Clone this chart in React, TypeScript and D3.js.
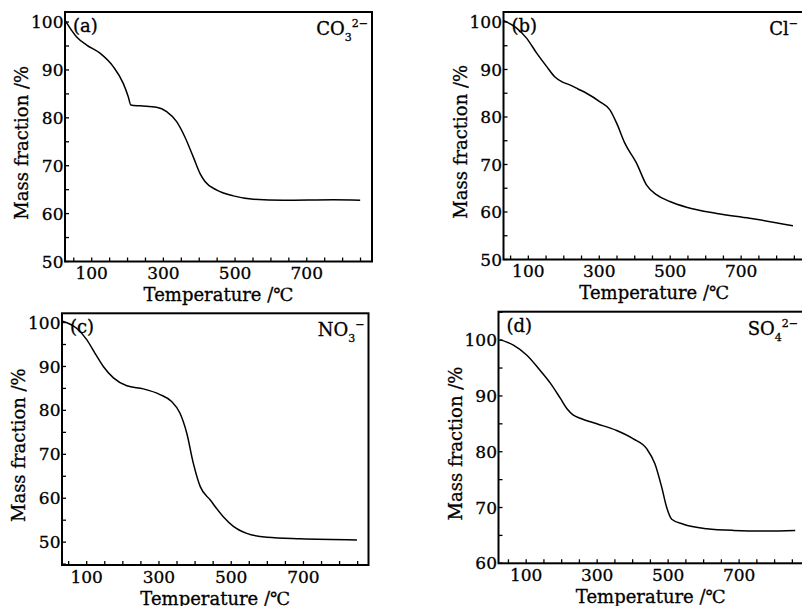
import React from "react";
import * as d3 from "d3";

// ---- Data ----
const tempA = [27, 58, 86, 123, 160, 188, 202, 209, 235, 281, 309, 337, 360, 383, 402, 416, 449, 495, 551, 635, 774, 849];
const massA = [100.2, 96.9, 95.2, 93.5, 90.7, 87.2, 84.4, 82.7, 82.5, 82.2, 81.3, 79.2, 76, 71.9, 68.4, 66.7, 64.9, 63.7, 63, 62.8, 62.9, 62.8];

const tempB = [31, 67, 95, 124, 152, 175, 195, 215, 240, 264, 302, 330, 349, 372, 405, 433, 462, 499, 546, 631, 724, 846];
const massB = [100.3, 98.7, 96.6, 93.4, 90.6, 88.4, 87.4, 86.8, 85.9, 85, 83.2, 81.5, 78.7, 74.5, 70.3, 65.7, 63.6, 62.2, 61, 59.7, 58.7, 57.1];

const tempC = [33, 72, 100, 123, 146, 174, 211, 257, 303, 335, 358, 377, 395, 414, 442, 478, 506, 543, 599, 691, 848];
const massC = [100.3, 98.7, 96.1, 93, 90, 87.4, 85.6, 84.9, 83.6, 82, 79.4, 74.8, 68, 62.7, 59.6, 55.8, 53.6, 52, 51.1, 50.75, 50.5];

const tempD = [27, 64, 102, 139, 168, 196, 215, 232, 252, 299, 355, 402, 440, 463, 482, 496, 510, 543, 609, 684, 778, 858];
const massD = [100.1, 99.1, 97.3, 94.6, 92.3, 89.6, 87.7, 86.6, 86.0, 85, 83.8, 82.3, 80.5, 77.8, 73.6, 70, 67.9, 67, 66.2, 65.9, 65.8, 65.9];

const xTickLabels = [100, 300, 500, 700];
const yTicksAB = [50, 60, 70, 80, 90, 100];
const yTicksC = [50, 60, 70, 80, 90, 100];
const yTicksD = [60, 70, 80, 90, 100];

const panelTags = ["(a)", "(b)", "(c)", "(d)"];
const ionMain = ["CO", "Cl", "NO", "SO"];
const ionSub = ["3", "", "3", "4"];
const ionSup = ["2\u2212", "\u2212", "\u2212", "2\u2212"];

const xTitle = "Temperature /\u2103";
const yTitle = "Mass fraction /%";

type Panel = {
  temps: number[];
  mass: number[];
  left: number; right: number; top: number; bottom: number;
  xDom: [number, number];
  yDom: [number, number];
  yTicks: number[];
  idx: number;
};

const panels: Panel[] = [
  { temps: tempA, mass: massA, left: 65, right: 372, top: 12, bottom: 261.5, xDom: [25.5, 882], yDom: [50, 102.1], yTicks: yTicksAB, idx: 0 },
  { temps: tempB, mass: massB, left: 503.5, right: 805, top: 12, bottom: 259.5, xDom: [30, 880], yDom: [50, 102.1], yTicks: yTicksAB, idx: 1 },
  { temps: tempC, mass: massC, left: 62, right: 368.5, top: 313.3, bottom: 565, xDom: [31.6, 880], yDom: [44.8, 102.1], yTicks: yTicksC, idx: 2 },
  { temps: tempD, mass: massD, left: 498.5, right: 803, top: 311.7, bottom: 563.3, xDom: [22, 880], yDom: [60, 105.1], yTicks: yTicksD, idx: 3 },
];

const FONT = "'DejaVu Serif', 'Liberation Serif', serif";
const TS = { stroke: "#000", strokeWidth: 0.3 };

function PanelView({ p }: { p: Panel }) {
  const x = d3.scaleLinear().domain(p.xDom).range([p.left, p.right]);
  const y = d3.scaleLinear().domain(p.yDom).range([p.bottom, p.top]);
  const pts = p.temps.map((t, i) => [t, p.mass[i]] as [number, number]);
  const line = d3
    .line<[number, number]>()
    .x((d) => x(d[0]))
    .y((d) => y(d[1]))
    .curve(d3.curveMonotoneX);

  const minorX = d3.range(50, p.xDom[1], 50).filter((v) => v > p.xDom[0]);
  const minorY = d3.range(Math.ceil(p.yDom[0] / 5) * 5, p.yDom[1], 5);
  const cx = (p.left + p.right) / 2;
  const tickLen = 4;

  return (
    <g>
      {minorX.map((v) => (
        <line key={"xt" + v} x1={x(v)} x2={x(v)} y1={p.bottom} y2={p.bottom - tickLen} stroke="#000" strokeWidth={1.3} />
      ))}
      {minorY.map((v) => (
        <line key={"yt" + v} x1={p.left} x2={p.left + tickLen} y1={y(v)} y2={y(v)} stroke="#000" strokeWidth={1.3} />
      ))}
      <rect x={p.left} y={p.top} width={p.right - p.left} height={p.bottom - p.top} fill="none" stroke="#000" strokeWidth={2} />
      <path d={line(pts) || ""} fill="none" stroke="#000" strokeWidth={1.5} />
      {xTickLabels.map((v) => (
        <text key={"xl" + v} x={x(v)} y={p.bottom + 17.5} textAnchor="middle" fontFamily={FONT} fontSize={17} {...TS}>
          {v}
        </text>
      ))}
      {p.yTicks.map((v) => (
        <text key={"yl" + v} x={p.left - 1.5} y={y(v)} dy="0.36em" textAnchor="end" fontFamily={FONT} fontSize={17} {...TS}>
          {v}
        </text>
      ))}
      <text x={cx} y={p.bottom + 39.5} textAnchor="middle" fontFamily={FONT} fontSize={18} {...TS}>
        {xTitle}
      </text>
      <text
        transform={`translate(${p.left - 43},${(p.top + p.bottom) / 2 + 6}) rotate(-90)`}
        textAnchor="middle"
        fontFamily={FONT}
        fontSize={18}
        dy="0.35em"
        {...TS}
      >
        {yTitle}
      </text>
      <text x={p.left + 8} y={p.top + 20} fontFamily={FONT} fontSize={18} {...TS}>
        {panelTags[p.idx]}
      </text>
      <text x={Math.min(p.right, 802) - 4} y={p.top + 23} textAnchor="end" fontFamily={FONT} fontSize={18} {...TS}>
        {ionMain[p.idx]}
        {ionSub[p.idx] ? (
          <tspan fontSize={11} dy={6}>{ionSub[p.idx]}</tspan>
        ) : null}
        <tspan fontSize={11} dy={ionSub[p.idx] ? -14 : -8}>{ionSup[p.idx]}</tspan>
      </text>
    </g>
  );
}

export default function App() {
  return (
    <svg width={802} height={606} style={{ position: "absolute", left: 0, top: 0, background: "#fff" }}>
      <rect x={0} y={0} width={802} height={606} fill="#fff" />
      {panels.map((p) => (
        <PanelView key={p.idx} p={p} />
      ))}
    </svg>
  );
}
